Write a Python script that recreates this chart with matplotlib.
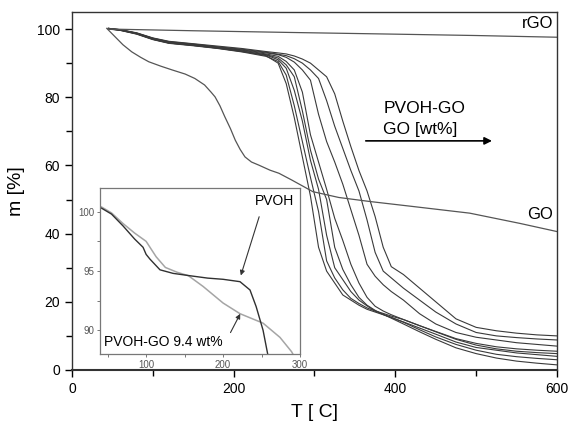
import numpy as np
import matplotlib
matplotlib.use('Agg')
import matplotlib.pyplot as plt

plt.rcParams['font.family'] = ['Liberation Sans', 'DejaVu Sans']

# temperature grid shared by the PVOH-GO curves
t_grid = [45, 60, 80, 100, 120, 150, 180, 210, 240, 255, 265, 275, 285, 295, 305, 315,
          325, 335, 345, 355, 365, 375, 385, 395, 410, 430, 450, 475, 500, 525, 550, 575, 600]

m_1 = [100.2, 99.7, 98.6, 97.0, 95.9, 95.2, 94.4, 93.5, 92.2, 90.0, 84.0, 74.0, 62.5, 51.0, 36.0, 29.0,
       25.5, 22.0, 20.5, 19.0, 17.8, 17.0, 16.2, 15.4, 14.1, 12.3, 10.5, 8.2, 6.6, 5.8, 5.0, 4.5, 4.0]
m_2 = [100.1, 99.6, 98.5, 96.9, 95.8, 95.1, 94.3, 93.3, 92.0, 90.5, 86.5, 77.5, 67.0, 56.5, 46.5, 32.0,
       27.0, 23.5, 21.0, 19.5, 18.2, 17.3, 16.6, 15.8, 14.8, 13.0, 11.3, 9.2, 7.8, 6.8, 6.2, 5.8, 5.5]
m_3 = [100.2, 99.8, 98.7, 97.1, 96.0, 95.3, 94.5, 93.6, 92.4, 91.0, 88.5, 82.0, 73.0, 61.5, 53.0, 39.5,
       30.0, 26.5, 23.0, 20.5, 18.8, 17.3, 16.3, 15.4, 14.0, 11.8, 9.7, 7.5, 5.8, 4.6, 3.9, 3.4, 3.0]
m_4 = [100.0, 99.6, 98.6, 97.0, 95.9, 95.2, 94.4, 93.4, 92.5, 91.5, 89.5, 86.0, 76.0, 64.5, 56.0, 50.0,
       36.0, 29.5, 25.0, 21.3, 19.0, 17.5, 16.3, 15.2, 13.5, 11.2, 9.0, 6.5, 4.8, 3.5, 2.6, 2.0, 1.5]
m_5 = [100.1, 99.7, 98.7, 97.2, 96.1, 95.4, 94.6, 93.8, 92.7, 92.0, 90.5, 88.0, 81.5, 69.0, 61.0, 53.0,
       44.5, 38.0, 31.0, 25.5, 21.3, 18.7, 17.3, 16.2, 14.8, 13.0, 11.2, 9.0, 7.3, 6.2, 5.5, 5.1, 4.8]
m_6 = [100.2, 99.8, 98.8, 97.3, 96.2, 95.5, 94.7, 93.9, 93.0, 92.5, 91.7, 90.3, 88.0, 85.0, 75.0, 67.0,
       61.0, 54.5, 47.0, 39.5, 31.0, 27.5, 25.0, 23.0, 20.5, 16.5, 13.5, 11.0, 9.6, 8.8, 8.0, 7.5, 7.0]
m_7 = [100.1, 99.7, 98.8, 97.3, 96.3, 95.6, 94.8, 94.1, 93.2, 92.6, 92.2, 91.3, 90.0, 88.0, 85.5, 79.0,
       71.5, 65.0, 58.5, 52.5, 44.0, 34.5, 29.0, 27.0, 24.0, 20.5, 17.0, 13.5, 11.0, 10.0, 9.5, 9.1, 8.8]
m_8 = [100.2, 99.8, 98.9, 97.4, 96.4, 95.7, 95.0, 94.3, 93.4, 93.0, 92.7, 92.1, 91.2, 90.0, 88.0, 86.0,
       81.0, 73.0, 65.5, 58.5, 52.5, 45.0, 36.0, 30.3, 28.0, 24.0, 20.0, 15.0, 12.5, 11.5, 10.8, 10.3, 10.0]
pvoh_go_series = [m_1, m_2, m_3, m_4, m_5, m_6, m_7, m_8]

# graphene oxide and reduced graphene oxide
go_t = [43, 53, 63, 74, 85, 95, 110, 124, 140, 152, 164, 172, 177, 183, 189, 196, 202, 208, 214,
        222, 231, 245, 256, 272, 298, 330, 369, 420, 492, 554, 600]
go_m = [100.2, 97.8, 95.4, 93.3, 91.7, 90.4, 89.1, 88.0, 86.8, 85.5, 83.6, 81.5, 80.1, 77.5, 74.3,
        70.8, 67.4, 64.7, 62.5, 61.0, 60.1, 58.6, 57.7, 55.7, 52.3, 50.6, 49.4, 48.0, 46.0, 43.0, 40.6]
rgo_t = [45, 150, 270, 400, 500, 600]
rgo_m = [100.0, 99.5, 99.0, 98.5, 98.1, 97.6]

# inset: PVOH vs PVOH-GO 9.4 wt%
pvoh_t = [42, 55, 70, 85, 96, 100, 105, 118, 135, 157, 180, 200, 222, 235, 243, 252, 258, 262]
pvoh_m = [100.3, 99.8, 98.8, 97.7, 97.0, 96.4, 96.0, 95.1, 94.8, 94.6, 94.4, 94.3, 94.1, 93.4, 92.0, 90.0, 88.0, 86.5]
pvoh_go94_t = [42, 55, 70, 85, 100, 113, 125, 140, 155, 174, 200, 222, 252, 274, 289, 295]
pvoh_go94_m = [100.4, 99.9, 99.0, 98.2, 97.5, 96.2, 95.3, 94.9, 94.6, 93.7, 92.3, 91.4, 90.6, 89.4, 88.2, 87.5]

fig = plt.figure(figsize=(5.7, 4.24), dpi=100)
ax = fig.add_axes([0.1263, 0.1274, 0.8509, 0.8443])

for m in pvoh_go_series:
    ax.plot(t_grid, m, color='#3a3a3a', lw=0.8)
ax.plot(go_t, go_m, color='#555555', lw=0.9)
ax.plot(rgo_t, rgo_m, color='#555555', lw=0.9)

ax.set_xlim(0, 600)
ax.set_ylim(0, 105)
ax.set_xticks([0, 200, 400, 600])
ax.set_xticks([100, 300, 500], minor=True)
ax.set_yticks([0, 20, 40, 60, 80, 100])
ax.set_yticks([10, 30, 50, 70, 90], minor=True)
ax.tick_params(which='both', direction='out', top=False, right=False, labelsize=10, width=1)
ax.tick_params(which='major', length=5)
ax.tick_params(which='minor', length=4)
for s in ax.spines.values():
    s.set_linewidth(1.0)
    s.set_color('#333333')
ax.spines['bottom'].set_linewidth(1.5)

ax.set_xlabel('T [ C]', fontsize=14, labelpad=6)
ax.set_ylabel('m [%]', fontsize=14, labelpad=9)

ax.text(595, 99.3, 'rGO', fontsize=12, ha='right', va='bottom')
ax.text(595, 43.5, 'GO', fontsize=12, ha='right', va='bottom')
ax.text(385, 74.5, 'PVOH-GO', fontsize=12.5, ha='left', va='bottom')
ax.text(385, 68.3, 'GO [wt%]', fontsize=12.5, ha='left', va='bottom')
ax.annotate('', xy=(523, 67.2), xytext=(360, 67.2),
            arrowprops=dict(arrowstyle='-|>', lw=1.2, color='black', mutation_scale=11))

# inset
axi = fig.add_axes([0.1754, 0.1651, 0.3509, 0.3915])
axi.plot(pvoh_go94_t, pvoh_go94_m, color='#a5a5a5', lw=1.1)
axi.plot(pvoh_t, pvoh_m, color='#303030', lw=1.0)
axi.set_xlim(40, 300)
axi.set_ylim(88, 102)
axi.set_xticks([100, 200, 300])
axi.set_xticks([50, 150, 250], minor=True)
axi.set_yticks([90, 95, 100])
axi.set_yticks([92.5, 97.5], minor=True)
axi.tick_params(which='both', direction='out', labelsize=7, labelcolor='#555555', color='#777777',
                length=2.5, width=0.7, pad=1.5)
for s in axi.spines.values():
    s.set_linewidth(0.9)
    s.set_color('#777777')

axi.text(292, 100.9, 'PVOH', fontsize=10, ha='right', va='center')
axi.annotate('', xy=(222, 94.4), xytext=(248, 99.8),
             arrowprops=dict(arrowstyle='-|>', lw=0.8, color='#333333', mutation_scale=7))
axi.text(45, 89.0, 'PVOH-GO 9.4 wt%', fontsize=10, ha='left', va='center')
axi.annotate('', xy=(224, 91.6), xytext=(208, 89.6),
             arrowprops=dict(arrowstyle='-|>', lw=0.8, color='#333333', mutation_scale=7))

fig.savefig('out.png', dpi=100, facecolor='w')
